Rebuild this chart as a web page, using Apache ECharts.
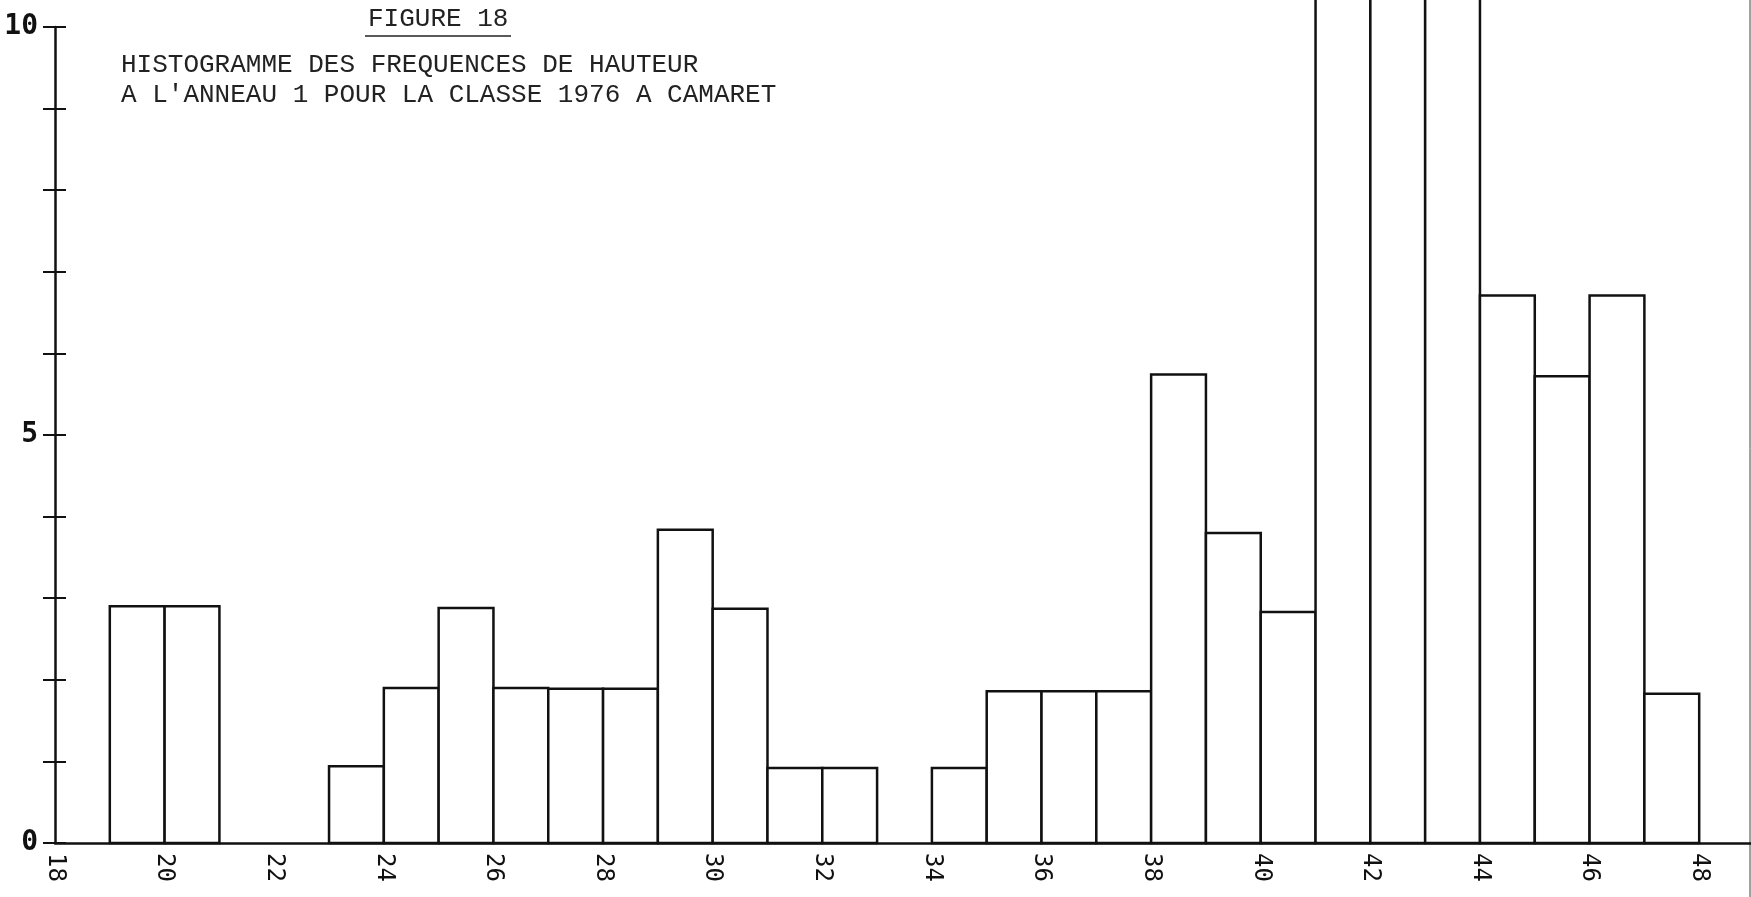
<!DOCTYPE html>
<html>
<head>
<meta charset="utf-8">
<script src="https://cdn.jsdelivr.net/npm/echarts@6/dist/echarts.min.js"></script>
<style>
  html, body { margin: 0; background: #fff; }
  #chart { width: 1751px; height: 897px; }
</style>
</head>
<body>
<div id="chart"></div>
<script>
// borne gauche de chaque classe de hauteur (largeur 1)
const classStarts = [19, 20, 21, 22, 23, 24, 25, 26, 27, 28, 29, 30, 31, 32, 33,
  34, 35, 36, 37, 38, 39, 40, 41, 42, 43, 44, 45, 46, 47];
// hauteurs des barres (41-43 sortent par le haut)
const counts = [2.9, 2.9, 0, 0, 0.94, 1.9, 2.88, 1.9, 1.89, 1.89, 3.84, 2.87, 0.92, 0.92, 0,
  0.92, 1.86, 1.86, 1.86, 5.74, 3.8, 2.83, 11, 11, 11, 6.71, 5.72, 6.71, 1.83];
// graduations affichées
const xTickLabels = [18, 20, 22, 24, 26, 28, 30, 32, 34, 36, 38, 40, 42, 44, 46, 48];
const yTickLabels = [0, 5, 10];

const figureTitle = "FIGURE 18";
const captionLines = [
  "HISTOGRAMME DES FREQUENCES DE HAUTEUR",
  "A L'ANNEAU 1 POUR LA CLASSE 1976 A CAMARET"
];

const chart = echarts.init(document.getElementById("chart"));

const ink = "#111";
const typeFont = "'Liberation Mono', 'DejaVu Sans Mono', monospace";
const printerFont = "'DejaVu Sans Mono', monospace";

const yBase = {
  type: "value",
  min: 0,
  max: 10,
  interval: 1,
  position: "left",
  splitLine: { show: false },
};

const options = {
  animation: false,
  backgroundColor: "#fff",
  grid: {
    left: 55,
    top: 27,
    width: 1699,
    bottom: 54,
    outerBoundsMode: "none",
  },
  xAxis: {
    type: "value",
    min: 18,
    max: 49,
    interval: 2,
    splitLine: { show: false },
    axisTick: { show: false },
    axisLine: { lineStyle: { color: ink, width: 2.5 } },
    axisLabel: {
      rotate: -90,
      margin: 10,
      color: ink,
      fontFamily: printerFont,
      fontSize: 24,
      formatter: (v) => (xTickLabels.includes(v) ? String(v) : ""),
    },
  },
  yAxis: [
    {
      ...yBase,
      axisLine: { show: true, lineStyle: { color: ink, width: 2.5 } },
      axisTick: { show: true, length: 12, lineStyle: { color: ink, width: 2 } },
      axisLabel: {
        margin: 17,
        color: ink,
        fontFamily: printerFont,
        fontWeight: "bold",
        fontSize: 28,
        padding: [0, 0, 20, 0],
        formatter: (v) => (yTickLabels.includes(v) ? String(v) : ""),
      },
    },
    {
      // graduations intérieures pour des tirets qui traversent l'axe
      ...yBase,
      axisLine: { show: false },
      axisTick: { show: true, inside: true, length: 11, lineStyle: { color: ink, width: 2 } },
      axisLabel: { show: false },
    },
  ],
  series: [
    {
      type: "custom",
      clip: false,
      data: classStarts.map((x, i) => [x, counts[i]]),
      renderItem: (params, api) => {
        const x0 = api.value(0);
        const v = api.value(1);
        if (!v) return;
        const p0 = api.coord([x0, 0]);
        const p1 = api.coord([x0 + 1, v]);
        return {
          type: "rect",
          shape: { x: p0[0], y: p1[1], width: p1[0] - p0[0], height: p0[1] - p1[1] },
          style: { fill: "#fff", stroke: ink, lineWidth: 2.5 },
        };
      },
    },
  ],
  graphic: [
    {
      type: "text",
      left: 368,
      top: 6,
      style: { text: figureTitle, font: `26px ${typeFont}`, fill: "#222" },
    },
    {
      type: "line",
      shape: { x1: 365, y1: 36, x2: 511, y2: 36 },
      style: { stroke: "#222", lineWidth: 1.5 },
    },
    {
      type: "text",
      left: 121,
      top: 52,
      style: { text: captionLines[0], font: `26px ${typeFont}`, fill: "#222" },
    },
    {
      type: "text",
      left: 121,
      top: 82,
      style: { text: captionLines[1], font: `26px ${typeFont}`, fill: "#222" },
    },
    {
      // bord droit de la feuille
      type: "line",
      shape: { x1: 1750, y1: 0, x2: 1750, y2: 897 },
      style: { stroke: "#444", lineWidth: 1 },
    },
  ],
};

chart.setOption(options);
</script>
</body>
</html>
